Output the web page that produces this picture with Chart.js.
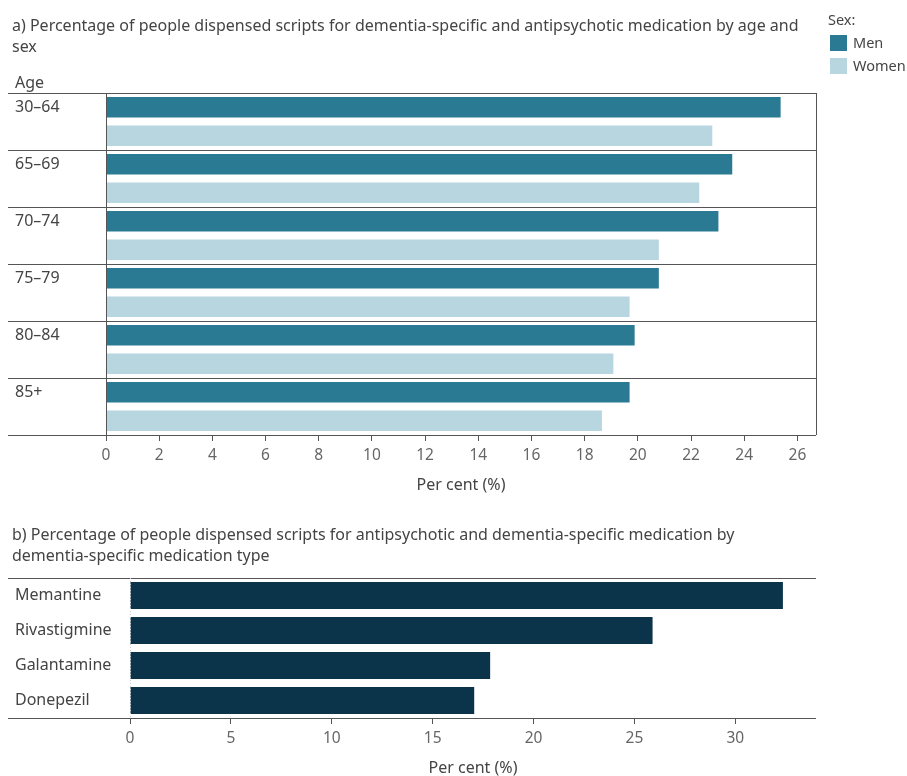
<!DOCTYPE html>
<html>
<head>
<meta charset="utf-8">
<script src="https://cdn.jsdelivr.net/npm/chart.js@4"></script>
<style>
  body { margin: 0; background: #fff; font-family: "Noto Sans", sans-serif; color: #444; overflow: hidden; }
  #wrap { position: relative; width: 907px; height: 776px; overflow: hidden; }
  canvas { position: absolute; left: 0; }
  .txt { position: absolute; font-size: 16px; line-height: 21px; color: #444; white-space: nowrap; }
  .key { position: absolute; width: 17px; height: 16px; }
</style>
</head>
<body>
<div id="wrap">
  <canvas id="chartA" width="907" height="500" style="top:0"></canvas>
  <canvas id="chartB" width="907" height="280" style="top:500px"></canvas>
  <div class="txt" style="left:12px;top:15px">a) Percentage of people dispensed scripts for dementia-specific and antipsychotic medication by age and<br>sex</div>
  <div class="txt" style="left:15px;top:72px">Age</div>
  <div id="legend"></div>
  <div class="txt" style="left:12px;top:524px">b) Percentage of people dispensed scripts for antipsychotic and dementia-specific medication by<br>dementia-specific medication type</div>
</div>
<script>
const ageGroups = ['30–64', '65–69', '70–74', '75–79', '80–84', '85+'];
const menValues = [25.37, 23.55, 23.03, 20.79, 19.88, 19.69];
const womenValues = [22.8, 22.31, 20.79, 19.69, 19.08, 18.65];
const sexLabels = ['Men', 'Women'];
const sexColors = ['#2a7a94', '#b8d6df'];
const ageTicks = [0, 2, 4, 6, 8, 10, 12, 14, 16, 18, 20, 22, 24, 26];

const medTypes = ['Memantine', 'Rivastigmine', 'Galantamine', 'Donepezil'];
const medValues = [32.36, 25.9, 17.85, 17.06];
const medTicks = [0, 5, 10, 15, 20, 25, 30];

const FONT = '"Noto Sans", sans-serif';
const LINE = '#555';

// legend
const legend = document.getElementById('legend');
legend.innerHTML = '<div class="txt" style="left:828px;top:9px;font-size:14.5px">Sex:</div>' +
  sexLabels.map((s, i) =>
    `<div class="key" style="left:830px;top:${35 + i * 23}px;background:${sexColors[i]}"></div>` +
    `<div class="txt" style="left:853px;top:${32 + i * 23}px;font-size:14.5px">${s}</div>`
  ).join('');

// draws category labels on the left and frame lines reaching into the label area
function frame(opts) {
  return {
    id: 'frame',
    afterDraw(chart) {
      const { ctx, chartArea: a } = chart;
      const y = chart.scales.y;
      ctx.save();
      ctx.strokeStyle = LINE;
      ctx.lineWidth = 1;
      const lines = [a.top, a.bottom];
      if (opts.separators) {
        for (let i = 0; i < y.ticks.length - 1; i++) {
          lines.push((y.getPixelForValue(i) + y.getPixelForValue(i + 1)) / 2);
        }
      }
      ctx.beginPath();
      lines.forEach(v => {
        const p = Math.round(v) + 0.5;
        ctx.moveTo(8, p);
        ctx.lineTo(a.right, p);
      });
      if (opts.box) {
        ctx.moveTo(Math.round(a.right) + 0.5, a.top);
        ctx.lineTo(Math.round(a.right) + 0.5, a.bottom);
        ctx.moveTo(Math.round(a.left) + 0.5, a.top);
        ctx.lineTo(Math.round(a.left) + 0.5, a.bottom);
      }
      ctx.stroke();
      if (opts.zeroLine) {
        ctx.strokeStyle = '#ccc';
        ctx.setLineDash([1, 2]);
        ctx.beginPath();
        ctx.moveTo(Math.round(a.left) + 0.5, a.top);
        ctx.lineTo(Math.round(a.left) + 0.5, a.bottom);
        ctx.stroke();
      }
      ctx.fillStyle = '#444';
      ctx.font = '16px ' + FONT;
      ctx.textBaseline = 'middle';
      ctx.textAlign = 'left';
      const meta = chart.getDatasetMeta(0);
      chart.data.labels.forEach((lab, i) => {
        ctx.fillText(lab, 15, meta.data[i].y);
      });
      ctx.restore();
    }
  };
}

function xAxis(max, tickValues, height, titlePad) {
  return {
    min: 0, max: max,
    afterBuildTicks: s => { s.ticks = tickValues.map(v => ({ value: v })); },
    afterFit: s => { s.height = height; },
    ticks: { color: '#666', font: { family: FONT, size: 15.5 }, padding: 5 },
    grid: { display: true, drawOnChartArea: false, drawTicks: true, tickLength: 6, color: LINE },
    border: { display: false },
    title: { display: true, text: 'Per cent (%)', color: '#444', font: { family: FONT, size: 16 }, padding: titlePad }
  };
}

new Chart(document.getElementById('chartA'), {
  type: 'bar',
  data: {
    labels: ageGroups,
    datasets: [
      { label: sexLabels[0], data: menValues, backgroundColor: sexColors[0] },
      { label: sexLabels[1], data: womenValues, backgroundColor: sexColors[1] }
    ]
  },
  options: {
    indexAxis: 'y',
    responsive: false,
    animation: false,
    layout: { padding: { left: 8, right: 91, top: 93, bottom: 5 } },
    datasets: { bar: { categoryPercentage: 1, barPercentage: 0.72 } },
    plugins: { legend: { display: false }, tooltip: { enabled: false } },
    scales: {
      x: xAxis(26.7, ageTicks, 60, { top: 4, bottom: 0 }),
      y: {
        afterFit: s => { s.width = 98; },
        ticks: { display: false },
        grid: { display: false },
        border: { display: false }
      }
    }
  },
  plugins: [frame({ separators: true, box: true })]
});

new Chart(document.getElementById('chartB'), {
  type: 'bar',
  data: {
    labels: medTypes,
    datasets: [{ label: 'Per cent', data: medValues, backgroundColor: '#0b344a' }]
  },
  options: {
    indexAxis: 'y',
    responsive: false,
    animation: false,
    layout: { padding: { left: 8, right: 91, top: 78, bottom: 0 } },
    datasets: { bar: { categoryPercentage: 1, barPercentage: 0.77 } },
    plugins: { legend: { display: false }, tooltip: { enabled: false } },
    scales: {
      x: xAxis(34, medTicks, 62, { top: 4, bottom: 2 }),
      y: {
        afterFit: s => { s.width = 122; },
        ticks: { display: false },
        grid: { display: false },
        border: { display: false }
      }
    }
  },
  plugins: [frame({ separators: false, box: false, zeroLine: true })]
});
</script>
</body>
</html>
